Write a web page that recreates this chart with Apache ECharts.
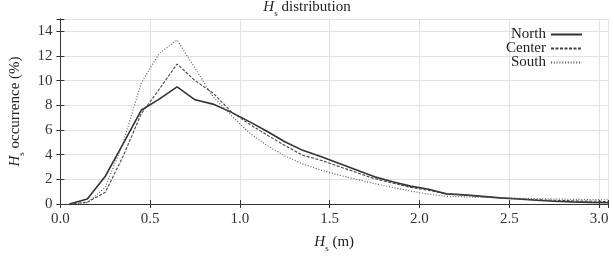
<!DOCTYPE html>
<html>
<head>
<meta charset="utf-8">
<script src="https://cdn.jsdelivr.net/npm/echarts@6/dist/echarts.min.js"></script>
<style>html,body{margin:0;padding:0;background:#fff}#c{width:614px;height:258px}</style>
</head>
<body>
<div id="c"></div>
<script>
var hs = [0.05,0.15,0.25,0.35,0.45,0.55,0.65,0.75,0.85,0.95,1.05,1.15,1.25,1.35,1.45,1.55,1.65,1.75,1.85,1.95,2.05,2.15,2.25,2.35,2.45,2.55,2.65,2.75,2.85,2.95,3.05];
var north = [0.0,0.4,2.25,4.9,7.6,8.5,9.5,8.45,8.1,7.45,6.7,5.9,5.05,4.35,3.85,3.3,2.75,2.2,1.8,1.45,1.2,0.82,0.74,0.62,0.5,0.4,0.3,0.22,0.17,0.13,0.1];
var center = [0.0,0.15,0.95,3.9,7.3,9.3,11.35,10.0,9.0,7.5,6.5,5.6,4.75,3.95,3.55,3.05,2.55,2.05,1.7,1.35,1.1,0.85,0.72,0.6,0.5,0.42,0.35,0.3,0.26,0.23,0.2];
var south = [0.0,0.1,1.35,5.0,9.8,12.2,13.3,11.0,8.7,7.2,5.8,4.75,3.9,3.25,2.75,2.35,2.0,1.65,1.35,1.05,0.8,0.62,0.58,0.54,0.5,0.47,0.44,0.41,0.38,0.36,0.34];
var seriesNames = ['North','Center','South'];
var xTicks = [0.0,0.5,1.0,1.5,2.0,2.5,3.0];
var yTicks = [0,2,4,6,8,10,12,14];

function pairs(v){ return hs.map(function(x,i){ return [x, v[i]]; }); }
var FONT = 'Liberation Serif';
var rich = {
  i: {fontFamily: FONT, fontStyle: 'italic', fontWeight: 'normal', fontSize: 15, color: '#222', lineHeight: 16, verticalAlign: 'middle'},
  s: {fontFamily: FONT, fontWeight: 'normal', fontSize: 9, color: '#222', lineHeight: 22, verticalAlign: 'bottom'},
  t: {fontFamily: FONT, fontWeight: 'normal', fontSize: 15, color: '#222', lineHeight: 16, verticalAlign: 'middle'}
};
function isTick(v, arr){ for (var k=0;k<arr.length;k++){ if (Math.abs(arr[k]-v)<1e-6) return true; } return false; }
var axisLineStyle = {color: '#333', width: 1};
var chart = echarts.init(document.getElementById('c'), null, {renderer: 'canvas'});
chart.setOption({
  animation: false,
  backgroundColor: '#fff',
  title: {
    text: '{i|H}{s|s}{t| distribution}',
    left: 'center', top: -9,
    textStyle: {fontWeight: 'normal', rich: rich}
  },
  legend: {
    orient: 'vertical', right: 26, top: 22,
    align: 'right',
    itemWidth: 31, itemHeight: 12, itemGap: -1,
    itemStyle: {opacity: 0},
    textStyle: {fontFamily: FONT, fontSize: 15, color: '#222'},
    data: seriesNames
  },
  grid: {left: 43.5, right: 6, top: 19, bottom: 50},
  xAxis: [{
    type: 'value', min: 0, max: 3.05, interval: 0.5,
    name: '{i|H}{s|s}{t| (m)}', nameLocation: 'middle', nameGap: 27,
    nameTextStyle: {rich: rich},
    axisLine: {show: true, lineStyle: axisLineStyle},
    axisTick: {show: true, inside: true, length: 4, lineStyle: axisLineStyle},
    axisLabel: {fontFamily: FONT, fontSize: 15, color: '#333', margin: 8,
      formatter: function(v){ return isTick(v, xTicks) ? v.toFixed(1) : ''; }},
    splitLine: {show: true, lineStyle: {color: '#e2e2e2', width: 1}}
  }, {
    type: 'value', position: 'top', min: 0, max: 3.05, interval: 0.5,
    axisLine: {show: true, lineStyle: axisLineStyle},
    axisTick: {show: true, inside: true, length: 4, lineStyle: axisLineStyle},
    axisLabel: {show: false}, splitLine: {show: false}
  }],
  yAxis: [{
    type: 'value', min: 0, max: 15, interval: 2,
    name: '{i|H}{s|s}{t| occurrence (%)}', nameLocation: 'middle', nameGap: 27, nameRotate: 90,
    nameTextStyle: {rich: rich},
    axisLine: {show: true, lineStyle: axisLineStyle},
    axisTick: {show: true, inside: true, length: 4, lineStyle: axisLineStyle},
    axisLabel: {fontFamily: FONT, fontSize: 15, color: '#333', margin: 8,
      formatter: function(v){ return isTick(v, yTicks) ? String(v) : ''; }},
    splitLine: {show: true, lineStyle: {color: '#e2e2e2', width: 1}}
  }, {
    type: 'value', position: 'right', min: 0, max: 15, interval: 2,
    axisLine: {show: true, lineStyle: axisLineStyle},
    axisTick: {show: true, inside: true, length: 4, lineStyle: axisLineStyle},
    axisLabel: {show: false}, splitLine: {show: false}
  }],
  series: [{
    name: seriesNames[0], type: 'line', data: pairs(north), showSymbol: false, symbol: 'none',
    lineStyle: {color: '#333', width: 1.6, type: 'solid'}, itemStyle: {color: '#333'}
  }, {
    name: seriesNames[1], type: 'line', data: pairs(center), showSymbol: false, symbol: 'none',
    lineStyle: {color: '#444', width: 1.1, type: [3, 1.5]}, itemStyle: {color: '#444'}
  }, {
    name: seriesNames[2], type: 'line', data: pairs(south), showSymbol: false, symbol: 'none',
    lineStyle: {color: '#555', width: 1.1, type: [1, 1.8]}, itemStyle: {color: '#555'}
  }]
});
</script>
</body>
</html>
